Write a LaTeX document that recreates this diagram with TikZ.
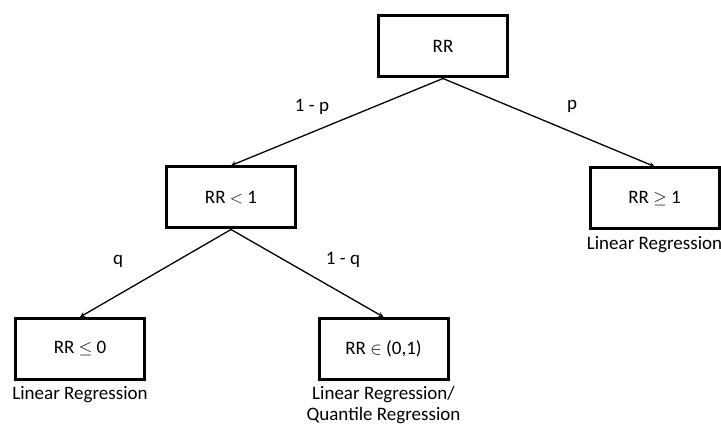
\documentclass[tikz,border=0pt]{standalone}
\usepackage{fontspec}
\setmainfont{Carlito}
\usepackage{tikz}
\usetikzlibrary{arrows,positioning}

\begin{document}
\begin{tikzpicture}[x=1pt,y=-1pt,font=\fontsize{19}{21}\selectfont]

\useasboundingbox (0,0) rectangle (721,425);

\tikzstyle{box}=[rectangle,draw=black,line width=3pt,minimum width=129pt,minimum height=61pt]
\tikzstyle{arr}=[->,>=stealth,line width=1.3pt]

% the tree
\node (rr) at (443,46.5) [box] {RR};
\node (rrlt) at (231,197.5) [box] {RR $<$ 1};
\node (rrge) at (654.5,198.5) [box] {RR $\geq$ 1};
\node (rrle) at (80,349) [box] {RR $\leq$ 0};
\node (rrin) at (383.5,349) [box] {RR $\in$ (0,1)};

\node [node distance=46pt,below of=rrge] {Linear Regression};
\node [node distance=46pt,below of=rrle] {Linear Regression};
\node [node distance=56pt,below of=rrin,align=center] {Linear Regression/\\Quantile Regression};

\draw[arr] (rr.south)--(rrlt.north);
\draw[arr] (rr.south)--(rrge.north);
\draw[arr] (rrlt.south)--(rrle.north);
\draw[arr] (rrlt.south)--(rrin.north);

\node (lp) at (312,107) {1 - p};
\node (p) at (572,106) {p};
\node (q) at (118,261) {q};
\node (lq) at (343,260) {1 - q};

\end{tikzpicture}
\end{document}
